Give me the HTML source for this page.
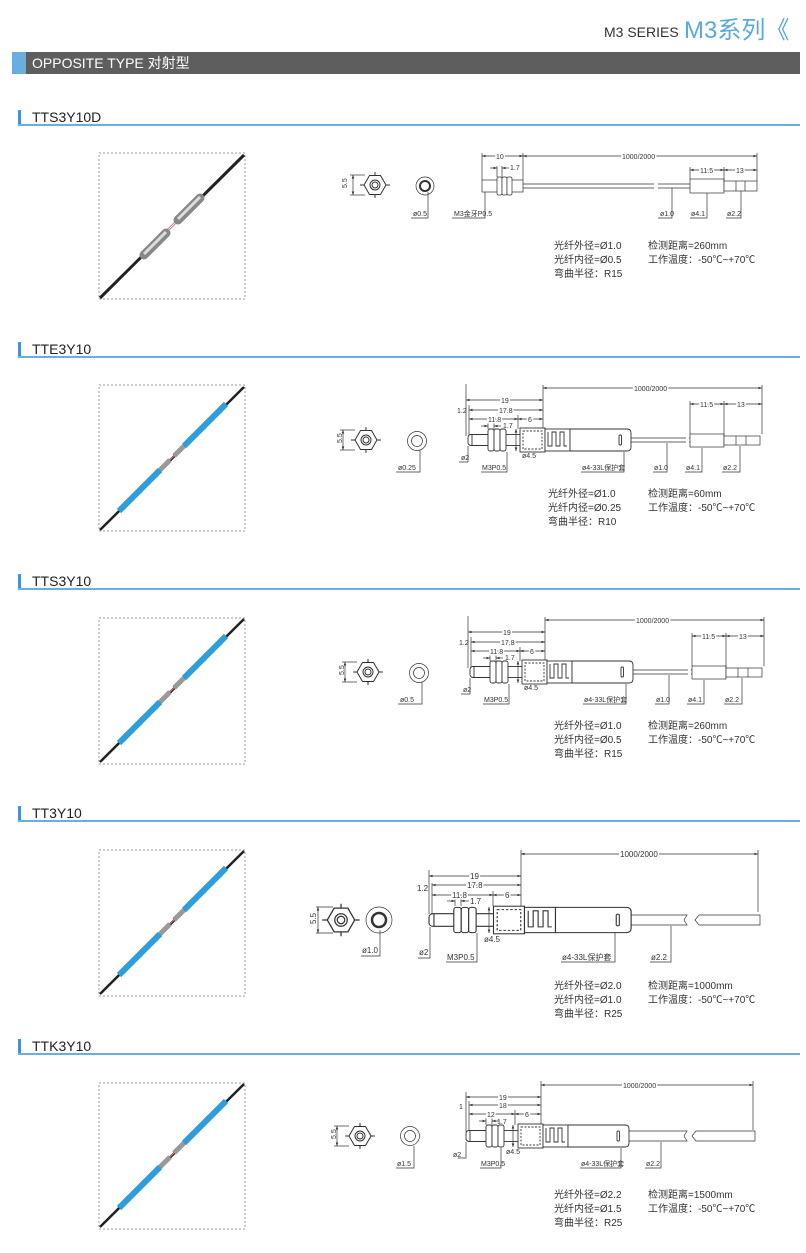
<!DOCTYPE html>
<html><head><meta charset="utf-8"><style>
html,body{margin:0;padding:0;background:#fff;}
body{width:806px;height:1253px;overflow:hidden;position:relative;font-family:"Liberation Sans","Noto Sans CJK SC",sans-serif;}
svg{position:absolute;left:0;top:0;}
</style></head><body>
<svg width="806" height="1253" viewBox="0 0 806 1253" xmlns="http://www.w3.org/2000/svg" font-family="Liberation Sans, Noto Sans CJK SC, sans-serif">
<defs>
<marker id="a" viewBox="0 0 6 6" refX="6" refY="3" markerWidth="5" markerHeight="5" orient="auto-start-reverse"><path d="M0,0.8 L6,3 L0,5.2z" fill="#333"/></marker>
<g id="probe" stroke="#333" stroke-width="0.9" fill="#fff">
<rect x="2" y="-5.5" width="24" height="11" rx="3"/>
<line x1="6" y1="-5.5" x2="6" y2="5.5"/>
<rect x="22" y="-11" width="6" height="22" rx="2"/>
<rect x="28" y="-11" width="6" height="22" rx="2"/>
<rect x="34" y="-11" width="6" height="22" rx="2"/>
<line x1="40" y1="-5.5" x2="54" y2="-5.5"/><line x1="40" y1="5.5" x2="54" y2="5.5"/>
<rect x="54" y="-12" width="25" height="24"/>
<rect x="57" y="-9" width="19" height="18" stroke-dasharray="2,1.5"/>
<rect x="79" y="-11" width="25" height="22"/>
<path d="M82,-8 v14 h4 v-14 h4 v14 h4 v-14 h4 v14 h3" fill="none"/>
<path d="M104,-11 h57 q4,0 4,4 v14 q0,4 -4,4 h-57z"/>
<rect x="153" y="-5" width="2.5" height="10" rx="1"/>
</g>
<g id="hex" stroke="#333" stroke-width="1" fill="#fff">
<path d="M-11,0 L-5.5,-9.5 L5.5,-9.5 L11,0 L5.5,9.5 L-5.5,9.5z"/>
<circle r="5"/><circle r="3" fill="none"/>
<line x1="-15" y1="0" x2="-11" y2="0"/><line x1="11" y1="0" x2="15" y2="0"/>
<line x1="0" y1="-13" x2="0" y2="-9.5"/><line x1="0" y1="9.5" x2="0" y2="13"/>
</g>
</defs>

<!-- header -->
<text x="604" y="37" font-size="14" fill="#333">M3 SERIES</text>
<text x="684" y="38" font-size="24" fill="#58a9dd">M3系列《</text>
<rect x="12" y="52" width="788" height="22" fill="#5e5e5e"/>
<rect x="12" y="52" width="14" height="22" fill="#6aaee0"/>
<text x="32" y="68" font-size="14" fill="#fff">OPPOSITE TYPE 对射型</text>

<!-- section headings -->
<g font-size="14" fill="#222">
<rect x="18" y="110" width="3" height="15" fill="#4a8fd6"/><rect x="18" y="124" width="782" height="2" fill="#6aaee0"/><text x="32" y="122">TTS3Y10D</text>
<rect x="18" y="342" width="3" height="15" fill="#4a8fd6"/><rect x="18" y="356" width="782" height="2" fill="#6aaee0"/><text x="32" y="354">TTE3Y10</text>
<rect x="18" y="574" width="3" height="15" fill="#4a8fd6"/><rect x="18" y="588" width="782" height="2" fill="#6aaee0"/><text x="32" y="586">TTS3Y10</text>
<rect x="18" y="806" width="3" height="15" fill="#4a8fd6"/><rect x="18" y="820" width="782" height="2" fill="#6aaee0"/><text x="32" y="818">TT3Y10</text>
<rect x="18" y="1039" width="3" height="15" fill="#4a8fd6"/><rect x="18" y="1053" width="782" height="2" fill="#6aaee0"/><text x="32" y="1051">TTK3Y10</text>
</g>

<!-- photo boxes -->
<g fill="none" stroke="#999" stroke-dasharray="2,2">
<rect x="99" y="153" width="146" height="146"/>
<rect x="99" y="385" width="146" height="146"/>
<rect x="99" y="618" width="146" height="146"/>
<rect x="99" y="850" width="146" height="146"/>
<rect x="99" y="1083" width="146" height="146"/>
</g>
<!-- photo 1 -->
<line x1="100" y1="298" x2="244" y2="155" stroke="#222" stroke-width="3"/>
<line x1="166" y1="233" x2="178" y2="221" stroke="#fff" stroke-width="3"/>
<line x1="166" y1="233" x2="178" y2="221" stroke="#f07070" stroke-width="1"/>
<line x1="144" y1="255" x2="166" y2="233" stroke="#888" stroke-width="9" stroke-linecap="round"/>
<line x1="144" y1="254" x2="166" y2="232" stroke="#ddd" stroke-width="3"/>
<line x1="178" y1="220" x2="200" y2="198" stroke="#888" stroke-width="9" stroke-linecap="round"/>
<line x1="178" y1="219" x2="200" y2="197" stroke="#ddd" stroke-width="3"/>
<!-- blue photos -->
<g id="bluep">
<line x1="100" y1="530" x2="244" y2="387" stroke="#222" stroke-width="2.5"/>
<line x1="119" y1="511" x2="160" y2="470" stroke="#2d9ddc" stroke-width="6"/>
<line x1="184" y1="446" x2="226" y2="404" stroke="#2d9ddc" stroke-width="6"/>
<line x1="160" y1="470" x2="170" y2="460" stroke="#999" stroke-width="5"/>
<line x1="170" y1="460" x2="174" y2="456" stroke="#f07070" stroke-width="1"/>
<line x1="174" y1="456" x2="184" y2="446" stroke="#999" stroke-width="5"/>
</g>
<use href="#bluep" y="232"/><use href="#bluep" y="464"/><use href="#bluep" y="697"/>

<g stroke="#333" stroke-width="0.7" fill="none">
<!-- ===== section 1 drawing ===== -->
<use href="#hex" x="375" y="185" stroke-width="1"/>
<line x1="350" y1="175" x2="365" y2="175"/><line x1="350" y1="195" x2="365" y2="195"/>
<line x1="353" y1="175" x2="353" y2="195" marker-start="url(#a)" marker-end="url(#a)"/>
<circle cx="425" cy="186" r="9" fill="#fff"/><circle cx="425" cy="186" r="5" stroke-width="2"/>
<polyline points="411,218 428,218 428,192"/>
<rect x="482" y="180" width="41" height="12" fill="#fff"/>
<rect x="497" y="177" width="5" height="18" rx="1.5" fill="#fff"/><rect x="502" y="177" width="5" height="18" rx="1.5" fill="#fff"/><rect x="507" y="177" width="5" height="18" rx="1.5" fill="#fff"/>
<line x1="523" y1="184" x2="654" y2="184"/><line x1="523" y1="188" x2="654" y2="188"/>
<line x1="658" y1="184" x2="690" y2="184"/><line x1="658" y1="188" x2="690" y2="188"/>
<rect x="690" y="179" width="34" height="14" fill="#fff"/>
<rect x="724" y="181" width="33" height="10" fill="#fff"/><line x1="736" y1="181" x2="736" y2="191"/><line x1="745" y1="181" x2="745" y2="191"/>
<line x1="482" y1="153" x2="482" y2="180"/><line x1="523" y1="153" x2="523" y2="180"/><line x1="757" y1="153" x2="757" y2="181"/>
<line x1="482" y1="156" x2="523" y2="156" marker-start="url(#a)" marker-end="url(#a)"/>
<line x1="523" y1="156" x2="757" y2="156" marker-start="url(#a)" marker-end="url(#a)"/>
<line x1="690" y1="167" x2="690" y2="179"/><line x1="724" y1="167" x2="724" y2="181"/>
<line x1="690" y1="170" x2="724" y2="170" marker-start="url(#a)" marker-end="url(#a)"/>
<line x1="724" y1="170" x2="757" y2="170" marker-start="url(#a)" marker-end="url(#a)"/>
<line x1="497" y1="166" x2="497" y2="177"/><line x1="502" y1="166" x2="502" y2="177"/>
<line x1="490" y1="168" x2="497" y2="168" marker-end="url(#a)"/><line x1="509" y1="168" x2="502" y2="168" marker-end="url(#a)"/>
<polyline points="452,218 485,218 485,192"/>
<polyline points="658,218 672,218 672,188"/>
<polyline points="690,218 707,218 707,193"/>
<polyline points="726,218 741,218 741,191"/>
</g>
<g font-size="7" fill="#333">
<text x="413" y="216">ø0.5</text><text x="454" y="216">M3金牙P0.5</text>
<text x="496" y="159" fill="#333" stroke="#fff" stroke-width="3" paint-order="stroke">10</text>
<text x="622" y="159" stroke="#fff" stroke-width="3" paint-order="stroke">1000/2000</text>
<text x="700" y="173" stroke="#fff" stroke-width="3" paint-order="stroke">11.5</text>
<text x="736" y="173" stroke="#fff" stroke-width="3" paint-order="stroke">13</text>
<text x="510" y="170">1.7</text>
<text x="660" y="216">ø1.0</text><text x="691" y="216">ø4.1</text><text x="727" y="216">ø2.2</text>
<text x="343" y="192" transform="rotate(-90 343 188)">5.5</text>
</g>
<g font-size="10" fill="#333">
<text x="554" y="249">光纤外径=Ø1.0</text><text x="554" y="263">光纤内径=Ø0.5</text><text x="554" y="277">弯曲半径：R15</text>
<text x="648" y="249">检测距离=260mm</text><text x="648" y="263">工作温度：-50℃~+70℃</text>
</g>

<!-- ===== generic probe sections ===== -->
<g id="s2">
<use href="#hex" x="366" y="440"/>
<g stroke="#333" stroke-width="0.7" fill="none">
<line x1="340" y1="430" x2="355" y2="430"/><line x1="340" y1="450" x2="355" y2="450"/>
<line x1="343" y1="430" x2="343" y2="450" marker-start="url(#a)" marker-end="url(#a)"/>
<circle cx="417" cy="441" r="9.5" fill="#fff"/><circle cx="417" cy="441" r="5.5"/>
<polyline points="396,472 420,472 420,450"/>
<line x1="466" y1="384" x2="466" y2="436"/><line x1="469" y1="405" x2="469" y2="436"/><line x1="543" y1="385" x2="543" y2="429"/><line x1="762" y1="385" x2="762" y2="434"/>
<line x1="543" y1="388" x2="762" y2="388" marker-start="url(#a)" marker-end="url(#a)"/>
<line x1="466" y1="400" x2="543" y2="400" marker-start="url(#a)" marker-end="url(#a)"/>
<line x1="469" y1="410" x2="543" y2="410" marker-start="url(#a)" marker-end="url(#a)"/>
<line x1="469" y1="419" x2="518" y2="419" marker-start="url(#a)" marker-end="url(#a)"/>
<line x1="518" y1="419" x2="543" y2="419" marker-start="url(#a)" marker-end="url(#a)"/>
<line x1="518" y1="415" x2="518" y2="429"/>
<line x1="488" y1="422" x2="488" y2="429"/><line x1="494" y1="422" x2="494" y2="429"/>
<line x1="481" y1="426" x2="488" y2="426" marker-end="url(#a)"/><line x1="501" y1="426" x2="494" y2="426" marker-end="url(#a)"/>
<line x1="516" y1="429" x2="516" y2="451" marker-start="url(#a)" marker-end="url(#a)"/>
<line x1="631" y1="438" x2="686" y2="438"/><line x1="631" y1="442" x2="686" y2="442"/>
<line x1="689" y1="438" x2="690" y2="438"/><line x1="689" y1="442" x2="690" y2="442"/>
<rect x="690" y="434" width="34" height="13" fill="#fff"/>
<rect x="724" y="436" width="36" height="9" fill="#fff"/><line x1="736" y1="436" x2="736" y2="445"/><line x1="746" y1="436" x2="746" y2="445"/>
<line x1="690" y1="401" x2="690" y2="434"/><line x1="724" y1="401" x2="724" y2="436"/>
<line x1="690" y1="404" x2="724" y2="404" marker-start="url(#a)" marker-end="url(#a)"/>
<line x1="724" y1="404" x2="762" y2="404" marker-start="url(#a)" marker-end="url(#a)"/>
<polyline points="459,462 468,462 468,446"/>
<polyline points="481,472 507,472 507,452" />
<polyline points="581,472 624,472 624,452"/>
<polyline points="653,472 667,472 667,443"/>
<polyline points="685,472 702,472 702,448"/>
<polyline points="722,472 740,472 740,446"/>
</g>
<use href="#probe" x="466" y="440"/>
<g font-size="7" fill="#333">
<g stroke="#fff" stroke-width="3" paint-order="stroke">
<text x="634" y="391">1000/2000</text><text x="501" y="403">19</text><text x="499" y="413">17.8</text><text x="488" y="422">11.8</text><text x="528" y="422">6</text>
<text x="700" y="407">11.5</text><text x="737" y="407">13</text>
</g>
<text x="503" y="428">1.7</text><text x="457" y="413">1.2</text>
<text x="461" y="460">ø2</text><text x="522" y="458">ø4.5</text>
<text x="398" y="470">ø0.25</text><text x="482" y="470">M3P0.5</text><text x="582" y="470">ø4-33L保护套</text>
<text x="654" y="470">ø1.0</text><text x="686" y="470">ø4.1</text><text x="723" y="470">ø2.2</text>
<text x="335" y="444" transform="rotate(-90 338 440)">5.5</text>
</g>
</g>
<g font-size="10" fill="#333">
<text x="548" y="497">光纤外径=Ø1.0</text><text x="548" y="511">光纤内径=Ø0.25</text><text x="548" y="525">弯曲半径：R10</text>
<text x="648" y="497">检测距离=60mm</text><text x="648" y="511">工作温度：-50℃~+70℃</text>
</g>

<!-- section 3 -->
<use href="#s2" x="2" y="232"/>
<rect x="396" y="694" width="22" height="9" fill="#fff"/>
<text x="400" y="702" font-size="7" fill="#333">ø0.5</text>
<g font-size="10" fill="#333">
<text x="554" y="729">光纤外径=Ø1.0</text><text x="554" y="743">光纤内径=Ø0.5</text><text x="554" y="757">弯曲半径：R15</text>
<text x="648" y="729">检测距离=260mm</text><text x="648" y="743">工作温度：-50℃~+70℃</text>
</g>

<!-- ===== section 4 ===== -->
<g transform="translate(341,920) scale(1.25)"><use href="#hex"/></g>
<g stroke="#333" stroke-width="0.7" fill="none">
<line x1="316" y1="907" x2="333" y2="907"/><line x1="316" y1="933" x2="333" y2="933"/>
<line x1="318" y1="907" x2="318" y2="933" marker-start="url(#a)" marker-end="url(#a)"/>
<circle cx="379" cy="920" r="13" fill="#fff"/><circle cx="379" cy="920" r="7" stroke-width="2.5"/>
<polyline points="361,956 380,956 380,930"/>
<line x1="429" y1="870" x2="429" y2="914"/><line x1="432" y1="883" x2="432" y2="914"/><line x1="521" y1="850" x2="521" y2="906"/><line x1="758" y1="850" x2="758" y2="912"/>
<line x1="521" y1="854" x2="758" y2="854" marker-start="url(#a)" marker-end="url(#a)"/>
<line x1="429" y1="876" x2="521" y2="876" marker-start="url(#a)" marker-end="url(#a)"/>
<line x1="432" y1="885" x2="521" y2="885" marker-start="url(#a)" marker-end="url(#a)"/>
<line x1="432" y1="895" x2="493" y2="895" marker-start="url(#a)" marker-end="url(#a)"/>
<line x1="493" y1="895" x2="521" y2="895" marker-start="url(#a)" marker-end="url(#a)"/>
<line x1="493" y1="891" x2="493" y2="906"/>
<line x1="455" y1="898" x2="455" y2="906"/><line x1="461" y1="898" x2="461" y2="906"/>
<line x1="447" y1="901" x2="455" y2="901" marker-end="url(#a)"/><line x1="469" y1="901" x2="461" y2="901" marker-end="url(#a)"/>
<line x1="489" y1="907" x2="489" y2="933" marker-start="url(#a)" marker-end="url(#a)"/>
<path d="M631,915 H687 l-3,5 M631,925 H687 l-3,-5 M699,915 l-4,5 4,5 M699,915 H760 V925 H699"/>
<polyline points="418,958 430,958 430,927"/>
<polyline points="446,962 477,962 477,933"/>
<polyline points="561,962 615,962 615,933"/>
<polyline points="650,962 671,962 671,926"/>
</g>
<g transform="translate(429,920) scale(1.24,1.15)"><use href="#probe" x="-2"/></g>
<g font-size="8" fill="#333">
<g stroke="#fff" stroke-width="3" paint-order="stroke">
<text x="620" y="857">1000/2000</text><text x="470" y="879">19</text><text x="467" y="888">17.8</text><text x="452" y="898">11.8</text><text x="505" y="898">6</text>
</g>
<text x="470" y="904">1.7</text><text x="417" y="891">1.2</text>
<text x="419" y="955">ø2</text><text x="484" y="942">ø4.5</text>
<text x="362" y="953">ø1.0</text><text x="447" y="960">M3P0.5</text><text x="562" y="960">ø4-33L保护套</text><text x="651" y="960">ø2.2</text>
<text x="308" y="924" transform="rotate(-90 312 920)">5.5</text>
</g>
<g font-size="10" fill="#333">
<text x="554" y="989">光纤外径=Ø2.0</text><text x="554" y="1003">光纤内径=Ø1.0</text><text x="554" y="1017">弯曲半径：R25</text>
<text x="648" y="989">检测距离=1000mm</text><text x="648" y="1003">工作温度：-50℃~+70℃</text>
</g>

<!-- ===== section 5 ===== -->
<use href="#hex" x="360" y="1136"/>
<g stroke="#333" stroke-width="0.7" fill="none">
<line x1="334" y1="1126" x2="349" y2="1126"/><line x1="334" y1="1146" x2="349" y2="1146"/>
<line x1="337" y1="1126" x2="337" y2="1146" marker-start="url(#a)" marker-end="url(#a)"/>
<circle cx="410" cy="1136" r="9.5" fill="#fff"/><circle cx="410" cy="1136" r="5.5"/>
<polyline points="396,1168 414,1168 414,1146"/>
<line x1="466" y1="1092" x2="466" y2="1132"/><line x1="469" y1="1101" x2="469" y2="1132"/><line x1="541" y1="1081" x2="541" y2="1125"/><line x1="753" y1="1081" x2="753" y2="1130"/>
<line x1="541" y1="1085" x2="753" y2="1085" marker-start="url(#a)" marker-end="url(#a)"/>
<line x1="466" y1="1097" x2="541" y2="1097" marker-start="url(#a)" marker-end="url(#a)"/>
<line x1="469" y1="1105" x2="541" y2="1105" marker-start="url(#a)" marker-end="url(#a)"/>
<line x1="469" y1="1114" x2="515" y2="1114" marker-start="url(#a)" marker-end="url(#a)"/>
<line x1="515" y1="1114" x2="541" y2="1114" marker-start="url(#a)" marker-end="url(#a)"/>
<line x1="515" y1="1110" x2="515" y2="1125"/>
<line x1="486" y1="1118" x2="486" y2="1125"/><line x1="492" y1="1118" x2="492" y2="1125"/>
<line x1="479" y1="1121" x2="486" y2="1121" marker-end="url(#a)"/><line x1="499" y1="1121" x2="492" y2="1121" marker-end="url(#a)"/>
<line x1="513" y1="1125" x2="513" y2="1147" marker-start="url(#a)" marker-end="url(#a)"/>
<path d="M629,1131 H687 l-3,5 M629,1141 H687 l-3,-5 M696,1131 l-4,5 4,5 M696,1131 H755 V1141 H696"/>
<polyline points="458,1158 466,1158 466,1142"/>
<polyline points="480,1168 501,1168 501,1148"/>
<polyline points="580,1168 621,1168 621,1148"/>
<polyline points="645,1168 661,1168 661,1142"/>
</g>
<use href="#probe" x="464" y="1136"/>
<g font-size="7" fill="#333">
<g stroke="#fff" stroke-width="3" paint-order="stroke">
<text x="623" y="1088">1000/2000</text><text x="499" y="1100">19</text><text x="499" y="1108">18</text><text x="487" y="1117">12</text><text x="525" y="1117">6</text>
</g>
<text x="497" y="1124">1.7</text><text x="459" y="1109">1</text>
<text x="453" y="1157">ø2</text><text x="506" y="1154">ø4.5</text>
<text x="397" y="1166">ø1.5</text><text x="481" y="1166">M3P0.5</text><text x="581" y="1166">ø4-33L保护套</text><text x="646" y="1166">ø2.2</text>
<text x="329" y="1140" transform="rotate(-90 332 1136)">5.5</text>
</g>
<g font-size="10" fill="#333">
<text x="554" y="1198">光纤外径=Ø2.2</text><text x="554" y="1212">光纤内径=Ø1.5</text><text x="554" y="1226">弯曲半径：R25</text>
<text x="648" y="1198">检测距离=1500mm</text><text x="648" y="1212">工作温度：-50℃~+70℃</text>
</g>
</svg>
</body></html>
